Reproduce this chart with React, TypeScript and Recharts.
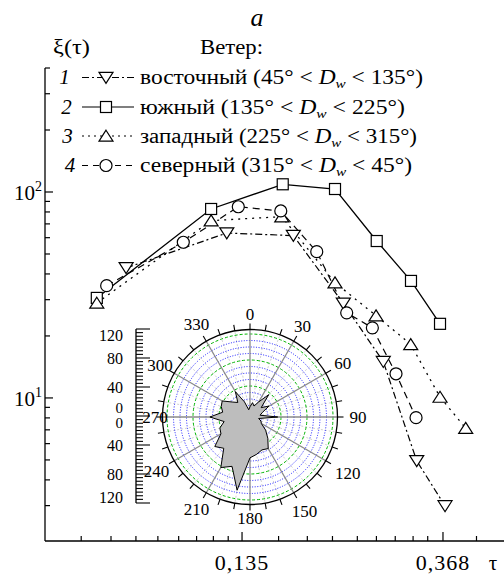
import React from 'react';
import {
  LineChart, Line, XAxis, YAxis,
  RadarChart, Radar, PolarGrid, PolarAngleAxis, PolarRadiusAxis,
} from 'recharts';

const FONT = "'Liberation Serif', 'DejaVu Serif', 'Noto Serif', 'Times New Roman', serif";
const TS = { fontFamily: FONT };

// ---------- main curves: tau (x) and xi(tau) (y) ----------
const eastTau = [0.0757, 0.1251, 0.1744, 0.2238, 0.2732, 0.3228, 0.3718];
const eastXi = [42.8, 63.2, 61.4, 28.8, 15.0, 4.95, 2.99];
const southTau = [0.0654, 0.1157, 0.1654, 0.2147, 0.2644, 0.3137, 0.3626];
const southXi = [30.6, 82.7, 109.0, 103.4, 57.8, 37.0, 22.9];
const westTau = [0.0654, 0.1157, 0.1646, 0.2147, 0.2635, 0.3133, 0.3626, 0.4122];
const westXi = [28.9, 72.6, 75.9, 36.3, 25.1, 18.2, 10.1, 7.13];
const northTau = [0.0687, 0.1007, 0.1325, 0.1638, 0.196, 0.2276, 0.2587, 0.2911, 0.3217];
const northXi = [35.1, 57.0, 84.8, 80.9, 51.3, 25.9, 21.9, 13.1, 8.02];

// ---------- axes ----------
const xTicks = [0.0605, 0.0702, 0.0795, 0.0887, 0.0984, 0.1076, 0.117, 0.126, 0.135,
  0.162, 0.187, 0.212, 0.24, 0.264, 0.29, 0.317, 0.341, 0.368, 0.435];
const xTickLabels = ['', '', '', '', '', '', '', '', '0,135',
  '', '', '', '', '', '', '', '', '0,368', ''];
const yTicks = [3, 4, 5, 6, 7, 8, 9, 10, 20, 30, 40, 50, 60, 70, 80, 90, 100, 200, 300, 400];
const yLabelValues = [10, 100];
const yLabelExponents = ['1', '2'];

// ---------- legend ----------
const legendNumbers = ['1', '2', '3', '4'];
const legendNames = ['восточный', 'южный', 'западный', 'северный'];
const legendFrom = ['45°', '135°', '225°', '315°'];
const legendTo = ['135°', '225°', '315°', '45°'];

// ---------- wind rose inset ----------
const roseDirs = [0, 10, 20, 30, 40, 50, 60, 70, 80, 90, 100, 110, 120, 130, 140, 150, 160, 170,
  180, 190, 200, 210, 220, 230, 240, 250, 260, 270, 280, 290, 300, 310, 320, 330, 340, 350];
const roseValues = [14, 20, 16, 24, 40, 20, 30, 18, 14, 38, 12, 16, 18, 28, 38, 50, 48, 52,
  56, 102, 72, 80, 56, 63, 46, 44, 36, 55, 38, 42, 44, 32, 26, 40, 22, 10];
const roseLabelDirs = [0, 30, 60, 90, 120, 150, 180, 210, 240, 270, 300, 330];
const roseLabelRadius = [103, 105, 107, 108, 113, 109, 101, 107, 108, 95, 104, 107];
const radialTicks = [-120, -115, -110, -105, -100, -95, -90, -85, -80, -75, -70, -65, -60, -55,
  -50, -45, -40, -35, -30, -25, -20, -15, -10, -5, 0, 5, 10, 15, 20, 25, 30, 35, 40, 45, 50,
  55, 60, 65, 70, 75, 80, 85, 90, 95, 100, 105, 110, 115, 120];
const radialLabelValues = [-120, -80, -40, 0, 40, 80, 120];

const toPoints = (t: number[], v: number[]) => t.map((x, i) => ({ tau: x, xi: v[i] }));
const eastData = toPoints(eastTau, eastXi);
const southData = toPoints(southTau, southXi);
const westData = toPoints(westTau, westXi);
const northData = toPoints(northTau, northXi);
const roseData = roseDirs.map((d, i) => ({ dir: d, speed: roseValues[i] }));
const radialData = radialTicks.map((r) => ({ r }));

const blueRings = [76.5, 70, 63.5, 50.5, 44, 37.5, 24.5, 18, 11.5];
const greenRings = [83, 57, 31];
const thinSpokes = [10, 20, 40, 50, 70, 80, 100, 110, 130, 140, 160, 170, 190, 200, 220, 230,
  250, 260, 280, 290, 310, 320, 340, 350];
const mainSpokes = [0, 30, 60, 90, 120, 150, 180, 210, 240, 270, 300, 330];

type Shape = 'down' | 'square' | 'up' | 'circle';

const MarkerShape = ({ cx, cy, shape }: { cx: number; cy: number; shape: Shape }) => {
  const st = { fill: '#fff', stroke: '#000', strokeWidth: 1.2 };
  if (shape === 'square') return <rect x={cx - 5.5} y={cy - 5.5} width={11} height={11} {...st} />;
  if (shape === 'circle') return <circle cx={cx} cy={cy} r={6} {...st} />;
  if (shape === 'up')
    return <polygon points={`${cx},${cy - 5.8} ${cx + 7},${cy + 5.2} ${cx - 7},${cy + 5.2}`} {...st} />;
  return <polygon points={`${cx - 7},${cy - 5.2} ${cx + 7},${cy - 5.2} ${cx},${cy + 5.8}`} {...st} />;
};

const makeDot = (shape: Shape) => (p: any) => {
  if (p.cx == null || p.cy == null) return <g key={`n${p.index}`} />;
  return <MarkerShape key={`${shape}${p.index}`} cx={p.cx} cy={p.cy} shape={shape} />;
};

const XTick = (props: any) => {
  const { x, y, payload } = props;
  const idx = xTicks.indexOf(payload.value);
  const label = idx >= 0 ? xTickLabels[idx] : '';
  const major = label !== '';
  return (
    <g>
      <line x1={x} x2={x} y1={y} y2={y - (major ? 9 : 5)} stroke="#000" strokeWidth={1.2} />
      {major && (
        <text x={x} y={y + 29} textAnchor="middle" fontSize={22} letterSpacing={1}
          style={TS} fill="#000">{label}</text>
      )}
    </g>
  );
};

const YTick = (props: any) => {
  const { x, y, payload } = props;
  const idx = yLabelValues.indexOf(payload.value);
  const major = idx >= 0;
  return (
    <g>
      <line x1={x} x2={x + (major ? 8 : 5)} y1={y} y2={y} stroke="#000" strokeWidth={1.2} />
      {major && (
        <g>
          <text x={x - 10} y={y + 8} textAnchor="end" fontSize={21} style={TS} fill="#000">10</text>
          <text x={x - 10} y={y - 1} textAnchor="start" fontSize={14} style={TS} fill="#000">
            {yLabelExponents[idx]}
          </text>
        </g>
      )}
    </g>
  );
};

const ROSE_C = 120;
const AngleTick = (props: any) => {
  const { x, y, payload } = props;
  const v = Number(payload.value);
  const li = roseLabelDirs.indexOf(v);
  if (li < 0) return <g />;
  const dx = x - ROSE_C;
  const dy = y - ROSE_C;
  const len = Math.sqrt(dx * dx + dy * dy) || 1;
  const r = roseLabelRadius[li];
  return (
    <text x={ROSE_C + (dx / len) * r} y={ROSE_C + (dy / len) * r} textAnchor="middle"
      dominantBaseline="central" fontSize={17} style={TS} fill="#000">{v}</text>
  );
};

const RadialTick = (props: any) => {
  const { x, y, payload } = props;
  const v = Number(payload.value);
  const major = radialLabelValues.indexOf(v) >= 0;
  const tx = x - 13;
  let labels: React.ReactNode = null;
  if (major) {
    const txt = String(Math.abs(v));
    if (v === 0) {
      labels = (
        <g>
          <text x={tx} y={y - 8} textAnchor="end" dominantBaseline="central" fontSize={15} style={TS}>0</text>
          <text x={tx} y={y + 7} textAnchor="end" dominantBaseline="central" fontSize={15} style={TS}>0</text>
        </g>
      );
    } else {
      const shift = v === 120 ? 6 : v === -120 ? -6 : 0;
      labels = (
        <text x={tx} y={y + shift} textAnchor="end" dominantBaseline="central" fontSize={16}
          style={TS}>{txt}</text>
      );
    }
  }
  return (
    <g>
      <line x1={x} x2={x + (major ? 14 : 7)} y1={y} y2={y} stroke="#000" strokeWidth={1.1} />
      {labels}
    </g>
  );
};

const legendRowBaseline = [84, 113.5, 142.5, 172];
const legendNumX = [64.5, 66.5, 67.5, 70];
const legendWidths = [283, 265, 277, 272];
const legendShapes: Shape[] = ['down', 'square', 'up', 'circle'];
const legendDash = ['7 3 2 3', undefined, '2 4', '6 5'];

export default function App() {
  return (
    <div style={{ position: 'absolute', left: 0, top: 0, width: 504, height: 577, overflow: 'hidden', background: '#fff' }}>
      <div style={{ position: 'absolute', left: 0, top: 0 }}>
        <LineChart width={504} height={577} margin={{ top: 68, right: 0, bottom: 0, left: 0 }}>
          <XAxis type="number" dataKey="tau" scale="log" domain={[0.0505, 0.499]} allowDataOverflow
            ticks={xTicks} interval={0} tick={<XTick />} tickLine={false} tickSize={0} tickMargin={0}
            height={36} axisLine={{ stroke: '#000', strokeWidth: 1.3 }} />
          <YAxis type="number" dataKey="xi" scale="log" domain={[2.02, 400]} allowDataOverflow
            ticks={yTicks} interval={0} tick={<YTick />} tickLine={false} tickSize={0} tickMargin={0}
            width={45} axisLine={{ stroke: '#000', strokeWidth: 1.3 }} />
          <Line data={eastData} dataKey="xi" type="linear" stroke="#000" strokeWidth={1.2}
            strokeDasharray="7 3 2 3" dot={makeDot('down')} isAnimationActive={false} />
          <Line data={southData} dataKey="xi" type="linear" stroke="#000" strokeWidth={1.3}
            dot={makeDot('square')} isAnimationActive={false} />
          <Line data={westData} dataKey="xi" type="linear" stroke="#000" strokeWidth={1.3}
            strokeDasharray="2 5" dot={makeDot('up')} isAnimationActive={false} />
          <Line data={northData} dataKey="xi" type="linear" stroke="#000" strokeWidth={1.2}
            strokeDasharray="7 5" dot={makeDot('circle')} isAnimationActive={false} />
        </LineChart>
      </div>

      <div style={{ position: 'absolute', left: 130, top: 297 }}>
        <RadarChart width={240} height={240} data={roseData} cx={ROSE_C} cy={ROSE_C} outerRadius={87.5}
          startAngle={90} endAngle={-270} margin={{ top: 0, right: 0, bottom: 0, left: 0 }}>
          <PolarGrid gridType="circle" polarAngles={thinSpokes} polarRadius={[]} stroke="#c4c4c4"
            strokeDasharray="2 2" strokeWidth={0.8} />
          <PolarGrid gridType="circle" polarAngles={[]} polarRadius={blueRings} stroke="#0000ff"
            strokeDasharray="1 1.6" strokeWidth={0.9} />
          <PolarGrid gridType="circle" polarAngles={[]} polarRadius={greenRings} stroke="#00b400"
            strokeDasharray="3 2" strokeWidth={1} />
          <PolarGrid gridType="circle" polarAngles={mainSpokes} polarRadius={[]} stroke="#8a8a8a"
            strokeWidth={1.3} />
          <PolarRadiusAxis type="number" domain={[0, 120]} allowDataOverflow tick={false} axisLine={false} />
          <PolarAngleAxis dataKey="dir" axisLineType="circle" axisLine={{ stroke: '#000', strokeWidth: 1.3 }}
            tickLine={{ stroke: '#000', strokeWidth: 1.1 }} tickSize={6} tick={<AngleTick />} />
          <Radar dataKey="speed" fill="#bdbdbd" fillOpacity={1} stroke="#000" strokeWidth={1}
            dot={false} isAnimationActive={false} />
        </RadarChart>
      </div>

      <div style={{ position: 'absolute', left: 0, top: 319 }}>
        <LineChart width={160} height={194} data={radialData} margin={{ top: 10, right: 0, bottom: 10, left: 0 }}>
          <YAxis type="number" dataKey="r" domain={[-120, 120]} allowDataOverflow ticks={radialTicks}
            interval={0} tick={<RadialTick />} tickLine={false} tickSize={0} tickMargin={0} width={136}
            axisLine={{ stroke: '#000', strokeWidth: 1.3 }} />
        </LineChart>
      </div>

      <svg width={504} height={577} style={{ position: 'absolute', left: 0, top: 0, pointerEvents: 'none', fontFamily: FONT }}>
        <text x={257} y={26} textAnchor="middle" fontSize={26} fontStyle="italic" style={TS}>a</text>
        <text x={53} y={54} fontSize={21} textLength={37} lengthAdjust="spacingAndGlyphs" style={TS}>ξ(τ)</text>
        <text x={200} y={54} fontSize={20} textLength={63} lengthAdjust="spacingAndGlyphs" style={TS}>Ветер:</text>
        {legendNames.map((name, i) => {
          const by = legendRowBaseline[i];
          const cy = by - 6.5;
          return (
            <g key={name}>
              <text x={legendNumX[i]} y={by} textAnchor="middle" fontSize={21} fontStyle="italic" style={TS}>
                {legendNumbers[i]}
              </text>
              <line x1={82} x2={134} y1={cy} y2={cy} stroke="#000" strokeWidth={1.2}
                strokeDasharray={legendDash[i]} />
              <MarkerShape cx={106} cy={cy} shape={legendShapes[i]} />
              <text x={140} y={by} fontSize={20} textLength={legendWidths[i]} lengthAdjust="spacingAndGlyphs" style={TS}>
                {name} ({legendFrom[i]} &lt; <tspan fontStyle="italic">D</tspan>
                <tspan fontStyle="italic" fontSize={13} dy={4}>w</tspan>
                <tspan dy={-4}> &lt; {legendTo[i]})</tspan>
              </text>
            </g>
          );
        })}
        <text x={493} y={570} textAnchor="middle" fontSize={21} style={TS}>τ</text>
      </svg>
    </div>
  );
}
